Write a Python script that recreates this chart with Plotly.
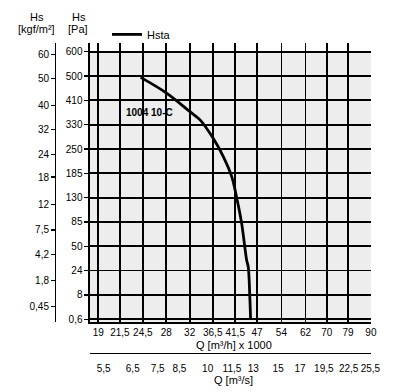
import numpy as np
import plotly.graph_objects as go

# ---- data ----
q_ticks = [19, 21.5, 24.5, 28, 32, 36.5, 41.5, 47, 54, 62, 70, 79, 90]          # Q [m3/h] x 1000
qs_ticks = [5.5, 6.5, 7.5, 8.5, 10, 11.5, 13, 15, 17, 19.5, 22.5, 25.5]        # Q [m3/s]
pa_ticks = [0.6, 8, 24, 50, 85, 130, 185, 250, 330, 410, 500, 600]            # Hs [Pa]
kgf_ticks = [0.45, 1.8, 4.2, 7.5, 12, 18, 24, 32, 40, 50, 60]                  # Hs [kgf/m2]

curve_q = [24.2, 28.1, 32.1, 34.0, 36.6, 38.8, 40.7, 41.8, 43.05, 44.3, 44.7, 45.1, 45.3]
curve_pa = [495, 436, 372, 345, 285, 229, 177, 132, 83, 35, 28, 7.5, 0.6]
curve_name = "Hsta"
curve_label = "1004 10-C"


def fmt(v):
    return f"{v:g}".replace(".", ",")


pa_idx = list(range(len(pa_ticks)))


def pa_to_idx(v):
    return np.interp(v, pa_ticks, pa_idx)


KGF_TO_PA = 9.80665
FONT = "Liberation Sans, Arial, sans-serif"

y_range = [-0.111, 11.357]
x_range = [1.25824, 1.95445]
xs_shift = np.log10(3.6)

fig = go.Figure()

fig.add_trace(go.Scatter(
    x=curve_q, y=pa_to_idx(curve_pa), mode="lines", name=curve_name,
    line=dict(color="black", width=2.8, shape="spline", smoothing=1.0),
    showlegend=True, hoverinfo="skip"))

# invisible helper traces to bind the secondary axes
fig.add_trace(go.Scatter(
    x=[q * 1000 / 3600 for q in curve_q], y=pa_to_idx(curve_pa), xaxis="x2", yaxis="y",
    mode="lines", line=dict(width=0, color="rgba(0,0,0,0)"), showlegend=False, hoverinfo="skip"))
fig.add_trace(go.Scatter(
    x=curve_q, y=pa_to_idx(curve_pa), xaxis="x", yaxis="y2",
    mode="lines", line=dict(width=0, color="rgba(0,0,0,0)"), showlegend=False, hoverinfo="skip"))

tickfont = dict(family=FONT, size=10, color="black")

fig.update_layout(
    width=406, height=392,
    margin=dict(l=40, r=31, t=43, b=30, autoexpand=False),
    paper_bgcolor="white", plot_bgcolor="white",
    font=dict(family=FONT, size=11, color="black"),
    showlegend=True,
    legend=dict(x=0.2, xanchor="left", y=1.027, yanchor="middle", orientation="h",
                font=dict(family=FONT, size=11, color="black"), bgcolor="rgba(0,0,0,0)",
                itemwidth=30),
    xaxis=dict(type="log", range=x_range, domain=[0.14925, 0.98806], anchor="y",
               tickvals=q_ticks, ticktext=[fmt(v) for v in q_ticks], tickangle=0,
               showgrid=True, gridcolor="black", gridwidth=1.7,
               showline=True, linecolor="black", linewidth=1.5, automargin=False,
               ticks="", tickfont=tickfont, zeroline=False),
    xaxis2=dict(type="log", range=[1.25824 + 1.7 / 403.7 - xs_shift, 1.25824 + 285 / 403.7 - xs_shift],
                domain=[0.1543, 1.0], overlaying="x", anchor="free", position=0.0292, side="bottom",
                tickvals=qs_ticks, ticktext=[fmt(v) for v in qs_ticks], tickangle=0,
                showgrid=False, showline=True, linecolor="black", linewidth=1.5, automargin=False,
                ticks="outside", ticklen=6, tickcolor="rgba(0,0,0,0)",
                tickfont=tickfont, zeroline=False),
    yaxis=dict(range=y_range, domain=[0.12539, 1.0], anchor="x",
               tickvals=pa_idx, ticktext=[fmt(v) for v in pa_ticks],
               showgrid=True, gridcolor="black", gridwidth=1.7, automargin=False,
               showline=True, linecolor="black", linewidth=1.5,
               ticks="outside", ticklen=4, tickwidth=1.3, tickcolor="black",
               tickfont=tickfont, zeroline=False),
    yaxis2=dict(range=y_range, domain=[0.12539, 1.0], overlaying="y", anchor="free",
                position=0.04478, side="left", automargin=False,
                tickvals=[float(pa_to_idx(k * KGF_TO_PA)) for k in kgf_ticks],
                ticktext=[fmt(v) for v in kgf_ticks],
                showgrid=False, showline=True, linecolor="black", linewidth=1.3,
                ticks="outside", ticklen=4, tickwidth=1.3, tickcolor="black",
                tickfont=tickfont, zeroline=False),
    shapes=[dict(type="rect", xref="x domain", x0=0, x1=1, yref="y", y0=y_range[0], y1=pa_idx[-1],
                 fillcolor="#ECEDEC", line=dict(width=0), layer="below")],
)


def pann(text, px, py, size=11):
    fig.add_annotation(text=text, xref="paper", yref="paper",
                       x=(px - 40) / 335, y=(362 - py) / 319,
                       xanchor="center", yanchor="middle", showarrow=False,
                       font=dict(family=FONT, size=size, color="black"))


pann("Hs", 36.7, 17)
pann("[kgf/m²]", 36.7, 29)
pann("Hs", 79, 17)
pann("[Pa]", 78, 29)
pann("Q [m³/h] x 1000", 233.5, 345)
pann("Q [m³/s]", 233.5, 380)

fig.add_annotation(text=f"<b>{curve_label}</b>", xref="x", yref="y",
                   x=np.log10(25.4), y=8.515, showarrow=False,
                   xanchor="center", yanchor="middle",
                   font=dict(family=FONT, size=10, color="black"))

fig.write_html("out.html", config={"displayModeBar": False, "staticPlot": True},
               post_script="document.body.style.margin='0';document.body.style.overflow='hidden';")
